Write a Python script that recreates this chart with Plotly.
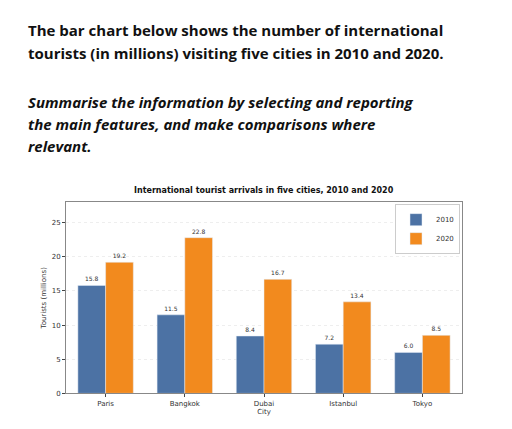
import plotly.graph_objects as go

cities = ["Paris", "Bangkok", "Dubai", "Istanbul", "Tokyo"]
y2010 = [15.8, 11.5, 8.4, 7.2, 6.0]
y2020 = [19.2, 22.8, 16.7, 13.4, 8.5]

fig = go.Figure()
fig.add_bar(x=cities, y=y2010, name="2010", marker_color="#4C72A4",
            text=[f"{v:.1f}" for v in y2010], textposition="outside",
            textfont=dict(size=6, color="#333"), cliponaxis=False)
fig.add_bar(x=cities, y=y2020, name="2020", marker_color="#F28A1E",
            text=[f"{v:.1f}" for v in y2020], textposition="outside",
            textfont=dict(size=6, color="#333"), cliponaxis=False)

W, H = 512, 429
fig.update_layout(
    width=W, height=H, margin=dict(l=0, r=0, t=0, b=0),
    paper_bgcolor="white", plot_bgcolor="white",
    barmode="group", bargap=0.3, bargroupgap=0,
    font=dict(family="DejaVu Sans", size=7, color="#333"),
    xaxis=dict(domain=[58/W, 454/W], showline=True, linecolor="#888", mirror=True,
               ticks="outside", ticklen=3, title=dict(text="City", font=dict(size=7), standoff=2)),
    yaxis=dict(domain=[(H-389)/H, (H-196)/H], range=[0, 28], dtick=5, showline=True,
               linecolor="#888", mirror=True, ticks="outside", ticklen=3,
               showgrid=True, gridcolor="#eee", griddash="dot",
               title=dict(text="Tourists (millions)", font=dict(size=7), standoff=4)),
    legend=dict(x=452/W, y=(H-198)/H, xanchor="right", yanchor="top", bordercolor="#ccc",
                borderwidth=1, font=dict(size=7), tracegroupgap=0),
    showlegend=True,
)
fig.add_annotation(text="<b>International tourist arrivals in five cities, 2010 and 2020</b>",
                   xref="paper", yref="paper", x=256/W, y=(H-184)/H, showarrow=False,
                   font=dict(size=8, color="#111"))
lines = [("<b>The bar chart below shows the number of international</b>", 22),
         ("<b>tourists (in millions) visiting five cities in 2010 and 2020.</b>", 45),
         ("<b><i>Summarise the information by selecting and reporting</i></b>", 95),
         ("<b><i>the main features, and make comparisons where</i></b>", 117),
         ("<b><i>relevant.</i></b>", 139)]
for t, y in lines:
    fig.add_annotation(text=t, xref="paper", yref="paper", x=18/W, y=(H-y)/H,
                       xanchor="left", yanchor="middle", showarrow=False,
                       font=dict(family="Open Sans", size=15, color="#111"))
fig.write_html("out.html")
